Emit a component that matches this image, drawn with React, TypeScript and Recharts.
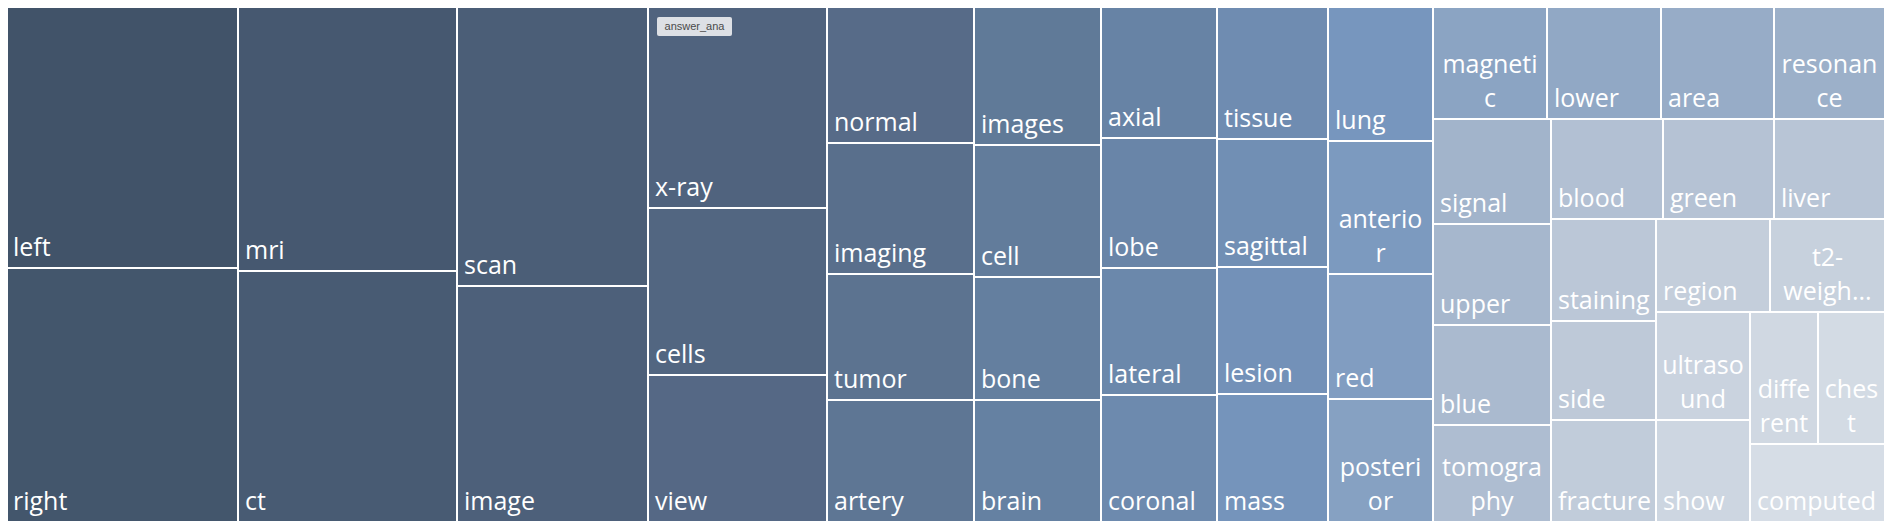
import { Treemap } from 'recharts';

// word frequencies, in the order the treemap lays them out
const words = [
  'left', 'right', 'mri', 'ct', 'scan', 'image', 'x-ray', 'cells', 'view',
  'normal', 'imaging', 'tumor', 'artery', 'images', 'cell', 'bone', 'brain',
  'axial', 'lobe', 'lateral', 'coronal', 'tissue', 'sagittal', 'lesion', 'mass',
  'lung', 'anterior', 'red', 'posterior', 'magnetic', 'lower', 'area', 'resonance',
  'signal', 'upper', 'blue', 'tomography', 'blood', 'green', 'liver',
  'staining', 'side', 'fracture', 'region', 't2-weighted', 'ultrasound', 'show',
  'different', 'chest', 'computed',
];
const counts = [
  606, 586, 578, 548, 532, 449, 360, 297, 263,
  201, 192, 184, 181, 176, 167, 156, 156,
  152, 150, 147, 147, 147, 142, 141, 141,
  141, 139, 131, 129, 128, 128, 127, 125,
  123, 119, 117, 115, 112, 111, 109,
  107, 104, 105, 106, 106, 101, 95,
  89, 89, 106,
];

const data = words.map((name, i) => ({ name, size: counts[i] }));

// colour ramp (dark slate -> light grey-blue), anchored by tile order
const rampAt = [0, 9, 13, 17, 21, 25, 29, 33, 37, 43, 49];
const rampColors = [
  '#415369', '#576b88', '#607a98', '#6783a5', '#6f8cb1', '#7796be',
  '#8ba4c3', '#a2b4cb', '#b2c0d3', '#c4cedb', '#d6dde6',
];

const hex = (c: string) => [1, 3, 5].map(k => parseInt(c.slice(k, k + 2), 16));

function colorFor(i: number) {
  let k = 0;
  while (k < rampAt.length - 2 && i > rampAt[k + 1]) k++;
  const t = Math.max(0, Math.min(1, (i - rampAt[k]) / (rampAt[k + 1] - rampAt[k])));
  const a = hex(rampColors[k]);
  const b = hex(rampColors[k + 1]);
  const c = a.map((v, j) => Math.round(v + (b[j] - v) * t));
  return `rgb(${c[0]},${c[1]},${c[2]})`;
}

const FONT_SIZE = 25;
const FONT = `${FONT_SIZE}px "Open Sans"`;
const LINE_H = 34;

let ctx: CanvasRenderingContext2D | null = null;
function measure(s: string) {
  if (!ctx) {
    ctx = document.createElement('canvas').getContext('2d');
  }
  if (!ctx) return s.length * FONT_SIZE * 0.55;
  ctx.font = FONT;
  return ctx.measureText(s).width;
}

function wrap(text: string, maxW: number, maxLines: number) {
  if (measure(text) <= maxW) return [text];
  const tokens = text.split(/(?<=-)/);
  const lines: string[] = [];
  let cur = '';
  for (const tok of tokens) {
    if (measure(cur + tok) <= maxW) {
      cur += tok;
      continue;
    }
    if (cur) {
      lines.push(cur);
      cur = '';
    }
    for (const ch of tok) {
      if (!cur || measure(cur + ch) <= maxW) cur += ch;
      else {
        lines.push(cur);
        cur = ch;
      }
    }
  }
  if (cur) lines.push(cur);
  if (lines.length > maxLines) {
    // cut the last line that fits and mark it with an ellipsis
    const kept = lines.slice(0, maxLines);
    let last = kept[maxLines - 1];
    while (last.length > 1 && measure(last + '...') > maxW - 12) last = last.slice(0, -1);
    kept[maxLines - 1] = last + '...';
    return kept;
  }
  return lines;
}

const Tile = (props: any) => {
  const { x, y, width, height, depth, index, name } = props;
  if (depth !== 1) return null;
  const maxW = width - 11.5;
  const maxLines = Math.max(1, Math.floor((height - 36) / LINE_H) + 1);
  const lines = wrap(String(name), maxW, maxLines);
  const multi = lines.length > 1;
  const baseY = y + height - 12;
  return (
    <g>
      <rect x={x} y={y} width={width} height={height} fill={colorFor(index)} stroke="#fff" strokeWidth={2} />
      <text
        fill="#fff"
        fontFamily='"Open Sans", sans-serif'
        fontSize={FONT_SIZE}
        textAnchor={multi ? 'middle' : 'start'}
      >
        {lines.map((ln, i) => (
          <tspan key={i} x={multi ? x + width / 2 : x + 7} y={baseY - (lines.length - 1 - i) * LINE_H}>
            {ln}
          </tspan>
        ))}
      </text>
    </g>
  );
};

export default function App() {
  return (
    <div style={{ position: 'relative', width: 1879, height: 516, margin: '-2px 0 0 -2px' }}>
      <Treemap
        width={1879}
        height={516}
        data={data}
        dataKey="size"
        nameKey="name"
        aspectRatio={1}
        isAnimationActive={false}
        content={<Tile />}
      />
      <div
        style={{
          position: 'absolute',
          left: 651,
          top: 11,
          width: 75,
          height: 19,
          lineHeight: '19px',
          background: '#dde0e5',
          borderRadius: 2,
          color: '#4a4a4a',
          fontFamily: '"Liberation Sans", Arial, sans-serif',
          fontSize: 11,
          textAlign: 'center',
        }}
      >
        answer_ana
      </div>
    </div>
  );
}
